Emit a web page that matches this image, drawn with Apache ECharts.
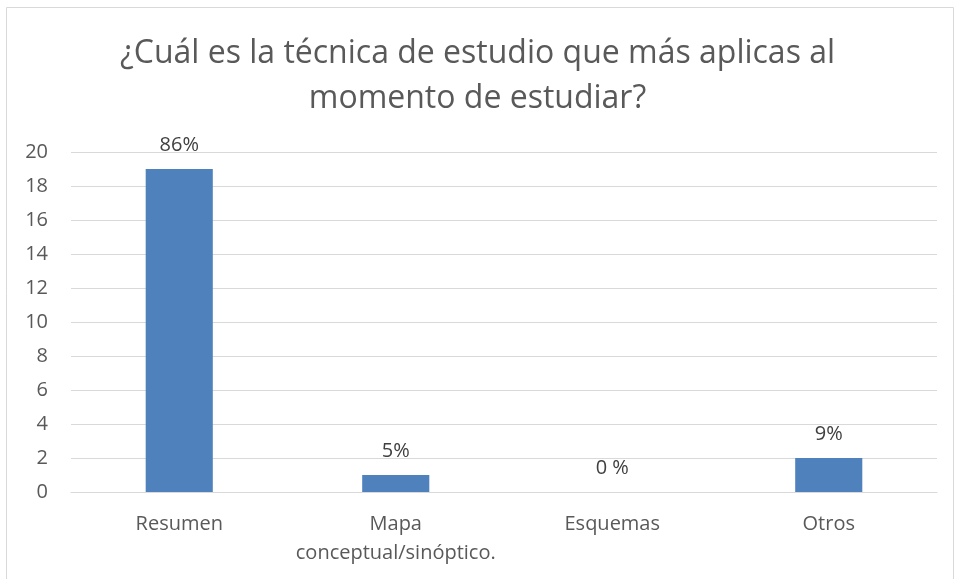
<!DOCTYPE html>
<html><head><meta charset="utf-8">
<script src="https://cdn.jsdelivr.net/npm/echarts@6/dist/echarts.min.js"></script>
<style>html,body{margin:0;padding:0;background:#fff}#c{width:955px;height:579px}</style>
</head><body><div id="c"></div>
<script>
const categories = ["Resumen", "Mapa\nconceptual/sinóptico.", "Esquemas", "Otros"];
const values = [19, 1, 0, 2];
const labels = ["86%", "5%", "0 %", "9%"];
const titleText = "¿Cuál es la técnica de estudio que más aplicas al\nmomento de estudiar?";

const chart = echarts.init(document.getElementById('c'));
const font = "'Open Sans', 'Noto Sans', sans-serif";
chart.setOption({
  backgroundColor: '#fff',
  animation: false,
  title: {
    text: titleText, left: 'center', top: 26,
    textStyle: { fontFamily: font, fontSize: 32, fontWeight: 'normal', color: '#595959', lineHeight: 45 }
  },
  graphic: [{
    type: 'rect', shape: { x: 6.5, y: 7.5, width: 947, height: 590 },
    style: { fill: 'none', stroke: '#d9d9d9', lineWidth: 1 }, silent: true
  }],
  grid: { left: 71, right: 18, top: 152, bottom: 87, containLabel: false },
  xAxis: {
    type: 'category', data: categories,
    axisLine: { lineStyle: { color: '#d9d9d9' } },
    axisTick: { show: false },
    axisLabel: { fontFamily: font, fontSize: 20, color: '#595959', margin: 18, lineHeight: 29, interval: 0 }
  },
  yAxis: {
    type: 'value', min: 0, max: 20, interval: 2,
    axisLine: { show: false }, axisTick: { show: false },
    splitLine: { lineStyle: { color: '#d9d9d9' } },
    axisLabel: { fontFamily: font, fontSize: 20, color: '#595959', margin: 23 }
  },
  series: [{
    type: 'bar', data: values, barWidth: '31%',
    itemStyle: { color: '#4f81bd' },
    label: {
      show: true, position: 'top', distance: 14,
      fontFamily: font, fontSize: 20, color: '#404040',
      formatter: p => labels[p.dataIndex]
    }
  }]
});
</script></body></html>
